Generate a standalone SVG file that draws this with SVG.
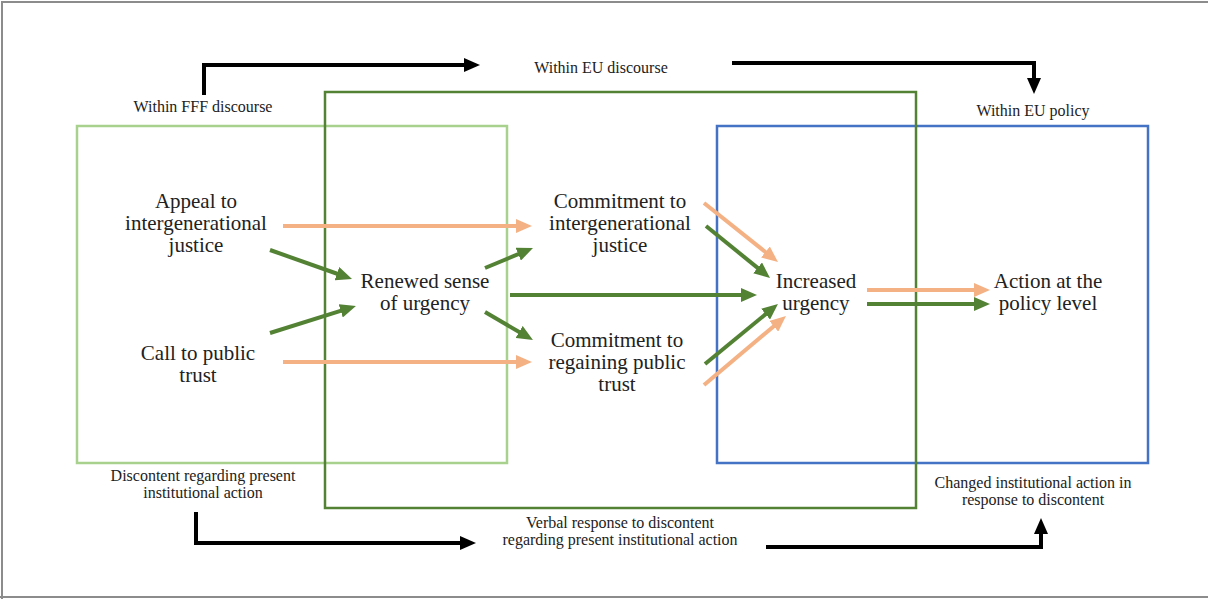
<svg xmlns="http://www.w3.org/2000/svg" width="1208" height="599" viewBox="0 0 1208 599">
  <style>
    .box { fill: none; stroke-width: 2.5; }
    .node { font-family: "Liberation Serif", "Times New Roman", serif; font-size: 21px; fill: #222; text-anchor: middle; }
    .lbl { font-family: "Liberation Serif", "Times New Roman", serif; font-size: 16px; fill: #222; text-anchor: middle; }
    .or { stroke: #f4b183; stroke-width: 4; fill: none; marker-end: url(#hOr); }
    .gr { stroke: #548235; stroke-width: 4; fill: none; marker-end: url(#hGr); }
    .bk { stroke: #000; stroke-width: 4; fill: none; stroke-linejoin: miter; marker-end: url(#hBk); }
  </style>
  <defs>
    <marker id="hOr" viewBox="0 0 4 3.5" refX="1" refY="1.75" markerWidth="4" markerHeight="3.5" markerUnits="strokeWidth" orient="auto">
      <path d="M0,0 L4,1.75 L0,3.5 z" fill="#f4b183"/>
    </marker>
    <marker id="hGr" viewBox="0 0 4 3.5" refX="1" refY="1.75" markerWidth="4" markerHeight="3.5" markerUnits="strokeWidth" orient="auto">
      <path d="M0,0 L4,1.75 L0,3.5 z" fill="#548235"/>
    </marker>
    <marker id="hBk" viewBox="0 0 4 3.5" refX="1" refY="1.75" markerWidth="4" markerHeight="3.5" markerUnits="strokeWidth" orient="auto">
      <path d="M0,0 L4,1.75 L0,3.5 z" fill="#000"/>
    </marker>
  </defs>
  <rect width="1208" height="599" fill="#fff"/>
  <path d="M2,599 V2 H1208 M0,597 H1208" stroke="#8c8c8c" stroke-width="2" fill="none"/>

  <g id="boxes">
    <rect id="box-fff" class="box" x="77" y="126" width="430" height="337" stroke="#a9d18e"/>
    <rect id="box-policy" class="box" x="717" y="126" width="431" height="337" stroke="#4472c4"/>
    <rect id="box-eu" class="box" x="325" y="92" width="591" height="416" stroke="#548235"/>
  </g>

  <g id="connectors">
    <line class="or" x1="283" y1="226" x2="520" y2="226"/>
    <line class="or" x1="283" y1="362" x2="520" y2="362"/>
    <line class="or" x1="704" y1="203" x2="768.6" y2="254.5"/>
    <line class="or" x1="704" y1="385" x2="776.8" y2="323.7"/>
    <line class="or" x1="867" y1="290" x2="978" y2="290"/>
    <line class="gr" x1="270" y1="250" x2="340.7" y2="275"/>
    <line class="gr" x1="270" y1="333" x2="344.5" y2="309.6"/>
    <line class="gr" x1="485" y1="268" x2="521.9" y2="252.6"/>
    <line class="gr" x1="485" y1="312" x2="522.6" y2="334"/>
    <line class="gr" x1="510" y1="295" x2="745" y2="295"/>
    <line class="gr" x1="706" y1="226" x2="760.7" y2="270.4"/>
    <line class="gr" x1="705" y1="364" x2="768.7" y2="311.6"/>
    <line class="gr" x1="867" y1="304" x2="978" y2="304"/>
    <path class="bk" d="M204,95 V65 H468"/>
    <path class="bk" d="M732,63 H1034 V82"/>
    <path class="bk" d="M196,512 V543 H464"/>
    <path class="bk" d="M766,547 H1041 V530"/>
  </g>

  <g id="n-appeal"><text class="node" x="196" y="208">Appeal to</text><text class="node" x="196" y="230">intergenerational</text><text class="node" x="196" y="252">justice</text></g>
  <g id="n-call"><text class="node" x="198" y="360">Call to public</text><text class="node" x="198" y="382">trust</text></g>
  <g id="n-renewed"><text class="node" x="425" y="288">Renewed sense</text><text class="node" x="425" y="310">of urgency</text></g>
  <g id="n-commit-ij"><text class="node" x="620" y="208">Commitment to</text><text class="node" x="620" y="230">intergenerational</text><text class="node" x="620" y="252">justice</text></g>
  <g id="n-commit-pt"><text class="node" x="617" y="347">Commitment to</text><text class="node" x="617" y="369">regaining public</text><text class="node" x="617" y="391">trust</text></g>
  <g id="n-increased"><text class="node" x="816" y="288">Increased</text><text class="node" x="816" y="310">urgency</text></g>
  <g id="n-action"><text class="node" x="1048" y="288">Action at the</text><text class="node" x="1048" y="310">policy level</text></g>

  <g id="labels">
    <text class="lbl" x="203" y="112">Within FFF discourse</text>
    <text class="lbl" x="601" y="73">Within EU discourse</text>
    <text class="lbl" x="1033" y="116">Within EU policy</text>
    <text class="lbl" x="203" y="481">Discontent regarding present</text>
    <text class="lbl" x="203" y="498">institutional action</text>
    <text class="lbl" x="620" y="528">Verbal response to discontent</text>
    <text class="lbl" x="620" y="545">regarding present institutional action</text>
    <text class="lbl" x="1033" y="488">Changed institutional action in</text>
    <text class="lbl" x="1033" y="505">response to discontent</text>
  </g>
</svg>
